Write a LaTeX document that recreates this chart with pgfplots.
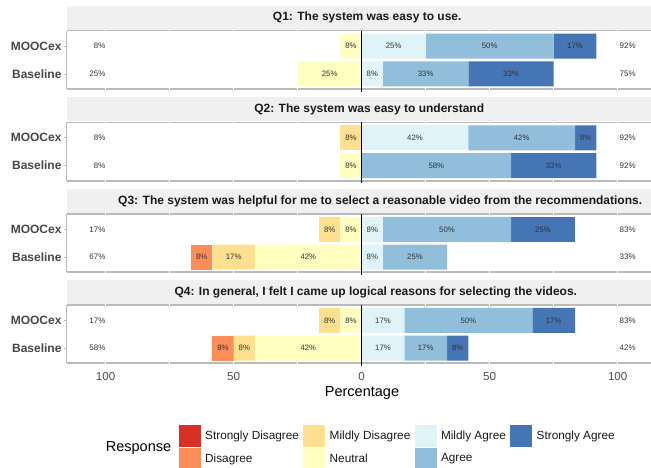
\documentclass[border=0pt]{standalone}
\usepackage{fontspec}
\setmainfont{Liberation Sans}
\usepackage{pgfplots}
\pgfplotsset{compat=1.18}
\usepackage{pgfplotstable}

\definecolor{cSD}{HTML}{D73027}
\definecolor{cD}{HTML}{FC8D59}
\definecolor{cMD}{HTML}{FEE090}
\definecolor{cN}{HTML}{FFFFBF}
\definecolor{cMA}{HTML}{E0F3F8}
\definecolor{cA}{HTML}{91BFDB}
\definecolor{cSA}{HTML}{4575B4}
\definecolor{frame}{HTML}{BABABA}
\definecolor{stripbg}{HTML}{F0F0F0}
\definecolor{txt}{HTML}{333333}
\definecolor{ticktxt}{HTML}{4D4D4D}
\definecolor{titletxt}{HTML}{1A1A1A}

% bar data (percent), y=2 MOOCex, y=1 Baseline
\pgfplotstableread{
y N MD D SD MA A SA
2 8.33 0 0 0 25 50 16.67
1 25 0 0 0 8.33 33.33 33.33
}\QA
\pgfplotstableread{
y N MD D SD MA A SA
2 0 8.33 0 0 41.67 41.67 8.33
1 8.33 0 0 0 0 58.33 33.33
}\QB
\pgfplotstableread{
y N MD D SD MA A SA
2 8.33 8.33 0 0 8.33 50 25
1 41.67 16.67 8.33 0 8.33 25 0
}\QC
\pgfplotstableread{
y N MD D SD MA A SA
2 8.33 8.33 0 0 16.67 50 16.67
1 41.67 8.33 8.33 0 16.67 16.67 8.33
}\QD

% segment labels
\pgfplotstableread{
x y l
-4.17 2 8
12.5 2 25
50 2 50
83.33 2 17
-12.5 1 25
4.17 1 8
25 1 33
58.33 1 33
}\LA
\pgfplotstableread{
x y l
-4.17 2 8
20.83 2 42
62.5 2 42
87.5 2 8
-4.17 1 8
29.17 1 58
75 1 33
}\LB
\pgfplotstableread{
x y l
-4.17 2 8
-12.5 2 8
4.17 2 8
33.33 2 50
70.83 2 25
-20.83 1 42
-50 1 17
-62.5 1 8
4.17 1 8
20.83 1 25
}\LC
\pgfplotstableread{
x y l
-4.17 2 8
-12.5 2 8
8.33 2 17
41.67 2 50
75 2 17
-20.83 1 42
-45.83 1 8
-54.17 1 8
8.33 1 17
25 1 17
37.5 1 8
}\LD
% totals (left, right)
\pgfplotstableread{
y left right
2 8 92
1 25 75
}\TA
\pgfplotstableread{
y left right
2 8 92
1 8 92
}\TB
\pgfplotstableread{
y left right
2 17 83
1 67 33
}\TC
\pgfplotstableread{
y left right
2 17 83
1 58 42
}\TD

\pgfplotsset{
  geom/.style={
    scale only axis, width=584.3pt, height=58.5pt,
    xmin=-115.2, xmax=113, ymin=0.45, ymax=2.55,
    clip=false,
  },
  panel/.style={
    geom, xbar stacked, bar width=25pt,
    axis line style={draw=none},
    ytick={1,2}, yticklabels={Baseline,MOOCex},
    ytick pos=left, tick align=outside, major tick length=3pt,
    ytick style={draw=frame, line width=0.8pt},
    xtick={-100,-50,0,50,100}, xticklabels={},
    xtick style={draw=none},
    yticklabel style={font=\fontsize{12}{14}\selectfont\bfseries, text=black!72, inner sep=0pt, xshift=-2pt},
    xticklabel style={font=\fontsize{11.6}{13}\selectfont, text=ticktxt, inner sep=0pt, anchor=north, yshift=-6pt},
  },
  over/.style={geom, hide axis},
  seg/.style={fill=#1, draw=none, forget plot},
  lab/.style={only marks, mark=*, mark size=0pt,
    mark options={draw=none, fill=none, draw opacity=0, fill opacity=0},
    forget plot,
    point meta=explicit symbolic,
    nodes near coords={\pgfplotspointmeta\%},
    nodes near coords align=center,
    every node near coord/.style={font=\fontsize{7.8}{9}\selectfont, text=txt, anchor=center, inner sep=0pt, text opacity=1}},
}

\newcommand\frameit{%
  \draw[frame, line width=1.2pt] (rel axis cs:0,1) -- (rel axis cs:1,1);
  \draw[frame, line width=1.2pt] (rel axis cs:0,0) -- (rel axis cs:0,1);
  \draw[frame, line width=2pt] (rel axis cs:0,0) -- (rel axis cs:1,0);
  \pgfplotsinvokeforeach{-100,-75,-50,-25,25,50,75,100}{%
    \draw[white, line width=0.6pt] (axis cs:##1,0.412) -- (axis cs:##1,2.572);}
}
\newcommand\bars[1]{%
  \addplot[seg=cN] table[x expr=-\thisrow{N}, y=y] {#1};
  \addplot[seg=cMD] table[x expr=-\thisrow{MD}, y=y] {#1};
  \addplot[seg=cD] table[x expr=-\thisrow{D}, y=y] {#1};
  \addplot[seg=cSD] table[x expr=-\thisrow{SD}, y=y] {#1};
  \addplot[seg=cMA] table[x=MA, y=y] {#1};
  \addplot[seg=cA] table[x=A, y=y] {#1};
  \addplot[seg=cSA] table[x=SA, y=y] {#1};
}
\newcommand\labels[2]{%
  \addplot[lab] table[x=x, y=y, meta=l] {#1};
  \addplot[lab, every node near coord/.append style={anchor=east, font=\fontsize{8}{9}\selectfont}]
    table[x expr=-100, y=y, meta=left] {#2};
  \addplot[lab, every node near coord/.append style={anchor=west, font=\fontsize{8}{9}\selectfont}]
    table[x expr=100.7, y=y, meta=right] {#2};
  \draw[black, line width=0.6pt] (axis cs:0,2.55) -- ([yshift=-2.5pt]axis cs:0,0.45);
}
\newcommand\panelbg[1]{%
  \begin{axis}[over, at={(66.7pt,#1)}, anchor=south west]
    \frameit
  \end{axis}
}

\begin{document}
\begin{tikzpicture}
\path[use as bounding box] (0,0) rectangle (651pt,468pt);

% Q1
\panelbg{378.7pt}
\begin{axis}[panel, at={(66.7pt,378.7pt)}, anchor=south west]
  \bars{\QA}
\end{axis}
\begin{axis}[over, at={(66.7pt,378.7pt)}, anchor=south west]
  \labels{\LA}{\TA}
\end{axis}

% Q2
\panelbg{287pt}
\begin{axis}[panel, at={(66.7pt,287pt)}, anchor=south west]
  \bars{\QB}
\end{axis}
\begin{axis}[over, at={(66.7pt,287pt)}, anchor=south west]
  \labels{\LB}{\TB}
\end{axis}

% Q3
\panelbg{195.5pt}
\begin{axis}[panel, at={(66.7pt,195.5pt)}, anchor=south west]
  \bars{\QC}
\end{axis}
\begin{axis}[over, at={(66.7pt,195.5pt)}, anchor=south west]
  \labels{\LC}{\TC}
\end{axis}

% Q4
\panelbg{104.5pt}
\begin{axis}[panel, at={(66.7pt,104.5pt)}, anchor=south west,
  xticklabels={100,50,0,50,100},
  legend columns=4,
  legend style={at={(0.1922,-1.0513)}, anchor=north west, draw=none, fill=none,
    inner sep=0pt, outer sep=0pt, row sep=1pt, column sep=4.5pt,
    font=\fontsize{11.8}{13}\selectfont, text=black!90,
    cells={anchor=west}, nodes={inner sep=0pt}},
  legend image code/.code={\path[#1] (0pt,-10.85pt) rectangle (21.7pt,10.85pt);},
]
  \bars{\QD}
  \addlegendimage{fill=cSD, draw=none}\addlegendentry{Strongly Disagree}
  \addlegendimage{fill=cMD, draw=none}\addlegendentry{Mildly Disagree}
  \addlegendimage{fill=cMA, draw=none}\addlegendentry{Mildly Agree}
  \addlegendimage{fill=cSA, draw=none}\addlegendentry{Strongly Agree}
  \addlegendimage{fill=cD, draw=none}\addlegendentry{Disagree}
  \addlegendimage{fill=cN, draw=none}\addlegendentry{Neutral}
  \addlegendimage{fill=cA, draw=none}\addlegendentry{Agree}
\end{axis}
\begin{axis}[over, at={(66.7pt,104.5pt)}, anchor=south west]
  \labels{\LD}{\TD}
\end{axis}

% facet strips
\foreach \t in {437.2,345.5,254,163}{
  \fill[stripbg] (66.7pt,\t pt+1pt) rectangle (651pt,\t pt+25pt);
}
\begin{scope}[every node/.style={font=\fontsize{12}{14}\selectfont\bfseries, text=titletxt}]
\node at (367.2pt,450.2pt) {Q1: The system was easy to use.};
\node at (369.2pt,358.5pt) {Q2: The system was easy to understand};
\node at (380.2pt,267pt) {Q3: The system was helpful for me to select a reasonable video from the recommendations.};
\node at (375.8pt,176pt) {Q4: In general, I felt I came up logical reasons for selecting the videos.};
\end{scope}

\node[font=\fontsize{14.5}{16}\selectfont, text=black] at (362pt,75pt) {Percentage};
\node[font=\fontsize{14.5}{16}\selectfont, text=black] at (138.5pt,20pt) {Response};
\end{tikzpicture}
\end{document}
